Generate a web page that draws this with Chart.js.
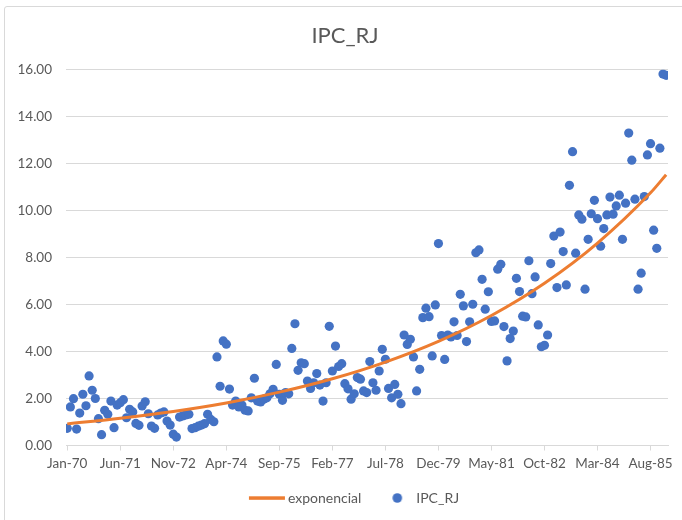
<!DOCTYPE html>
<html>
<head>
<meta charset="utf-8">
<script src="https://cdn.jsdelivr.net/npm/chart.js"></script>
<style>
  body { margin: 0; background: #fff; }
  #wrap { position: relative; width: 682px; height: 520px; }
  #frame { position: absolute; left: 4px; top: 6px; width: 700px; height: 530px; border: 1px solid #d9d9d9; border-radius: 3px; pointer-events: none; }
</style>
</head>
<body>
<div id="wrap">
  <canvas id="chart"></canvas>
  <div id="frame"></div>
</div>
<script>
// IPC_RJ monthly values, starting Jan-70 (index = months since Jan-70)
const ipcRJ = [
  0.73, 1.64, 1.99, 0.70, 1.38, 2.18, 1.69, 2.96, 2.35, 2.00, 1.14, 0.46,
  1.50, 1.33, 1.89, 0.76, 1.72, 1.82, 1.95, 1.18, 1.54, 1.43, 0.94, 0.86,
  1.68, 1.86, 1.35, 0.83, 0.73, 1.30, 1.38, 1.43, 1.04, 0.87, 0.48, 0.36,
  1.21, 1.26, 1.30, 1.33, 0.72, 0.76, 0.82, 0.87, 0.93, 1.33, 1.11, 1.01,
  3.77, 2.52, 4.45, 4.31, 2.40, 1.72, 1.89, 1.64, 1.72, 1.50, 1.47, 2.03,
  2.86, 1.89, 1.85, 1.97, 2.03, 2.20, 2.39, 3.45, 2.18, 1.92, 2.25, 2.20,
  4.13, 5.18, 3.20, 3.52, 3.48, 2.74, 2.43, 2.67, 3.06, 2.57, 1.89, 2.67,
  5.07, 3.17, 4.23, 3.36, 3.48, 2.63, 2.41, 1.97, 2.20, 2.89, 2.82, 2.32,
  2.25, 3.57, 2.67, 2.35, 3.17, 4.09, 3.67, 2.43, 2.03, 2.60, 2.18, 1.78,
  4.70, 4.30, 4.52, 3.77, 2.32, 3.24, 5.44, 5.84, 5.48, 3.81, 5.98, 8.59,
  4.68, 3.66, 4.70, 4.62, 5.26, 4.68, 6.43, 5.94, 4.42, 5.26, 6.01, 8.20,
  8.32, 7.07, 5.80, 6.54, 5.28, 5.30, 7.50, 7.71, 5.06, 3.60, 4.55, 4.87,
  7.11, 6.55, 5.50, 5.47, 7.86, 6.46, 7.17, 5.13, 4.20, 4.26, 4.70, 7.74,
  8.91, 6.72, 9.08, 8.25, 6.83, 11.07, 12.50, 8.18, 9.81, 9.63, 6.65, 8.77,
  9.86, 10.43, 9.65, 8.48, 9.23, 9.81, 10.57, 9.84, 10.19, 10.65, 8.77, 10.31,
  13.29, 12.14, 10.48, 6.65, 7.33, 10.59, 12.36, 12.84, 9.16, 8.39, 12.65, 15.80,
  15.75
];

// exponential trendline, values at these months
const trendMonths = [0, 17, 34, 51, 68, 85, 102, 119, 136, 153, 170, 187, 192];
const trendValues = [0.92, 1.16, 1.45, 1.81, 2.27, 2.84, 3.55, 4.43, 5.53, 6.90, 8.61, 10.75, 11.52];

// x axis labels, one every 17 months
const tickStep = 17;
const tickLabels = ['Jan-70', 'Jun-71', 'Nov-72', 'Apr-74', 'Sep-75', 'Feb-77',
  'Jul-78', 'Dec-79', 'May-81', 'Oct-82', 'Mar-84', 'Aug-85'];

const FONT = 'Lato, "Open Sans", sans-serif';
const GREY = '#595959';
const BLUE = '#4472C4';
const ORANGE = '#ED7D31';

// legend icons (drawn centred on the legend box, so pad them to shift)
function legendIcon(draw) {
  const c = document.createElement('canvas');
  c.width = 50; c.height = 12;
  draw(c.getContext('2d'));
  return c;
}
const lineIcon = legendIcon(g => {
  g.fillStyle = ORANGE;
  g.fillRect(12, 4.3, 36, 3.5);
});
const dotIcon = legendIcon(g => {
  g.fillStyle = BLUE;
  g.beginPath();
  g.arc(32, 6, 4.8, 0, Math.PI * 2);
  g.fill();
});

// title and legend sit a little right of the canvas centre in the original
const nudgeBoxes = {
  id: 'nudgeBoxes',
  afterLayout(chart) {
    if (chart.titleBlock) { chart.titleBlock.left += 11; chart.titleBlock.right += 11; }
    if (chart.legend) { chart.legend.left += 17; chart.legend.right += 17; }
  }
};

const ctx = document.getElementById('chart').getContext('2d');
new Chart(ctx, {
  type: 'scatter',
  data: {
    datasets: [
      {
        type: 'line',
        label: 'exponencial',
        data: trendMonths.map((m, i) => ({ x: m, y: trendValues[i] })),
        borderColor: ORANGE,
        backgroundColor: ORANGE,
        borderWidth: 3,
        pointRadius: 0,
        cubicInterpolationMode: 'monotone',
        fill: false
      },
      {
        label: 'IPC_RJ',
        data: ipcRJ.map((v, i) => ({ x: i, y: v })),
        backgroundColor: BLUE,
        borderWidth: 0,
        pointRadius: 4.6,
        pointHoverRadius: 4.6
      }
    ]
  },
  options: {
    responsive: true,
    maintainAspectRatio: false,
    animation: false,
    layout: { padding: { left: 0, right: 14, top: 0, bottom: 5 } },
    plugins: {
      title: {
        display: true,
        text: 'IPC_RJ',
        color: GREY,
        font: { family: FONT, size: 22, weight: 'normal' },
        padding: { top: 23, bottom: 20 }
      },
      legend: {
        position: 'bottom',
        labels: {
          usePointStyle: true,
          pointStyleWidth: 38,
          color: GREY,
          font: { family: FONT, size: 14 },
          padding: 10,
          generateLabels: function(chart) {
            const items = Chart.defaults.plugins.legend.labels.generateLabels(chart);
            items.forEach(it => {
              it.pointStyle = it.datasetIndex === 1 ? dotIcon : lineIcon;
            });
            return items;
          }
        }
      },
      tooltip: { enabled: false }
    },
    scales: {
      x: {
        type: 'linear',
        min: -0.4,
        max: 192.6,
        afterBuildTicks: function(scale) {
          scale.ticks = tickLabels.map((t, i) => ({ value: i * tickStep }));
        },
        afterFit: function(scale) { scale.height = 35.5; },
        ticks: {
          autoSkip: false,
          maxRotation: 0,
          padding: 5.5,
          color: GREY,
          font: { family: FONT, size: 13.5 },
          callback: function(v) { return tickLabels[Math.round(v / tickStep)]; }
        },
        grid: { drawOnChartArea: false, drawTicks: true, tickLength: 5, color: '#d9d9d9' },
        border: { color: '#d9d9d9' }
      },
      y: {
        min: 0,
        max: 16,
        afterFit: function(scale) { scale.width = 66; },
        ticks: {
          stepSize: 2,
          padding: 14,
          color: GREY,
          font: { family: FONT, size: 13.5 },
          callback: function(v) { return v.toFixed(2); }
        },
        grid: { color: '#d9d9d9', drawTicks: false },
        border: { display: false }
      }
    }
  },
  plugins: [nudgeBoxes]
});
</script>
</body>
</html>
